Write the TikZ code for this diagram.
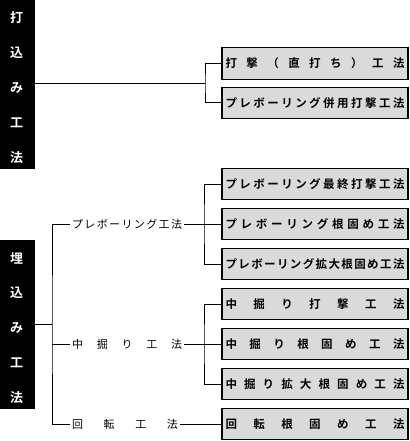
\documentclass[tikz,border=0pt]{standalone}
\usepackage{fontspec}
\setmainfont{Noto Sans CJK JP}[BoldFont={Noto Sans CJK JP Bold}]
\makeatletter
\newcommand\spreadchars[2]{\hbox to #1{\def\sp@first{1}\@tfor\sp@c:=#2\do{\ifx\sp@first\@empty\hfill\fi\sp@c\let\sp@first\@empty}}}
\makeatother
\definecolor{boxgray}{RGB}{218,218,218}
\tikzset{
  blackbar/.style={fill=black, draw=none, minimum width=35pt, minimum height=169pt, inner sep=0pt},
  barchar/.style={text=white, font=\bfseries\fontsize{13}{13}\selectfont, inner sep=0pt},
  methodbox/.style={draw=black, line width=1.3pt, fill=boxgray, minimum width=186pt, minimum height=31.5pt, inner sep=0pt, font=\bfseries\fontsize{11.5}{12}\selectfont},
  midlabel/.style={inner xsep=2pt, inner ysep=0pt, font=\fontsize{11}{12}\selectfont},
  conn/.style={line width=1pt, draw=black}
}
\begin{document}
\begin{tikzpicture}[x=1pt, y=-1pt]
\useasboundingbox (0,0) rectangle (409,441);
% left bars
\node[blackbar] (bar1) at (17.5,84) {};
\node[blackbar] (bar2) at (17.5,324.5) {};
\foreach \c [count=\i] in {打,込,み,工,法}
  \node[barchar] (ua\i) at (16.5,{17.5+35*(\i-1)}) {\c};
\foreach \c [count=\i] in {埋,込,み,工,法}
  \node[barchar] (ub\i) at (16.5,{258+35*(\i-1)}) {\c};
% boxes
\node[methodbox] (k1) at (315,63.5) {\spreadchars{179pt}{打撃（直打ち）工法}};
\node[methodbox] (k2) at (315,103) {\spreadchars{179pt}{プレボーリング併用打撃工法}};
\node[methodbox] (k3) at (315,184) {\spreadchars{179pt}{プレボーリング最終打撃工法}};
\node[methodbox] (k4) at (315,224) {\spreadchars{179pt}{プレボーリング根固め工法}};
\node[methodbox] (k5) at (315,264) {\spreadchars{179pt}{プレボーリング拡大根固め工法}};
\node[methodbox] (k6) at (315,304) {\spreadchars{179pt}{中掘り打撃工法}};
\node[methodbox] (k7) at (315,344) {\spreadchars{179pt}{中掘り根固め工法}};
\node[methodbox] (k8) at (315,384) {\spreadchars{179pt}{中掘り拡大根固め工法}};
\node[methodbox] (k9) at (315,424) {\spreadchars{179pt}{回転根固め工法}};
% middle labels
\node[midlabel] (m1) at (127,224) {\spreadchars{110pt}{プレボーリング工法}};
\node[midlabel] (m2) at (127,344) {\spreadchars{110pt}{中掘り工法}};
\node[midlabel] (m3) at (125,424) {\spreadchars{106pt}{回転工法}};
% junctions
\coordinate (j1) at (205,84);
\coordinate (j2) at (52,324.5);
\coordinate (j3) at (204,224);
\coordinate (j4) at (204,344);
% connectors
\draw[conn] (bar1.east) -- (j1);
\draw[conn] (k1.west) -| (j1) |- (k2.west);
\draw[conn] (bar2.east) -- (j2);
\draw[conn] (m1.west) -| (j2) |- (m3.west);
\draw[conn] (m2.west) -- (m2.west -| j2);
\draw[conn] (m1.east) -- (k4.west);
\draw[conn] (k3.west) -| (j3) |- (k5.west);
\draw[conn] (m2.east) -- (k7.west);
\draw[conn] (k6.west) -| (j4) |- (k8.west);
\draw[conn] (m3.east) -- (k9.west);
\end{tikzpicture}
\end{document}
